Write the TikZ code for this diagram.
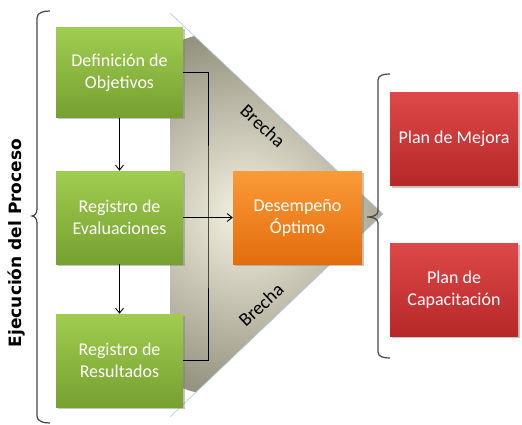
\documentclass[tikz,border=0pt]{standalone}
\usepackage{fontspec}
\setmainfont{Carlito}
\newfontfamily\labelfont{DejaVu Sans}
\usetikzlibrary{shadows,arrows.meta}
\definecolor{gtop}{RGB}{160,205,80}
\definecolor{gbot}{RGB}{118,160,48}
\definecolor{otop}{RGB}{250,155,55}
\definecolor{obot}{RGB}{228,108,12}
\definecolor{rtop}{RGB}{222,72,72}
\definecolor{rbot}{RGB}{182,40,40}
\definecolor{tridark}{RGB}{148,144,126}
\definecolor{trilight}{RGB}{244,242,226}
\definecolor{triedge}{RGB}{175,200,230}
\definecolor{bracec}{RGB}{70,70,70}
\tikzset{
  box/.style={rectangle, minimum width=127pt, minimum height=93pt, align=center,
    text=white, font=\fontsize{18}{22}\selectfont,
    drop shadow={opacity=0.45, shadow xshift=2pt, shadow yshift=-2pt}},
  greenbox/.style={box, top color=gtop, bottom color=gbot},
  orangebox/.style={box, top color=otop, bottom color=obot},
  redbox/.style={box, top color=rtop, bottom color=rbot},
  conn/.style={draw=black, line width=0.9pt},
  arr/.style={conn, -{Straight Barb[length=5pt,width=8pt]}},
  bracestyle/.style={draw=bracec, line width=1.2pt},
  gaplabel/.style={font=\fontsize{19}{22}\selectfont, text=black, inner sep=0pt}
}
\begin{document}
\begin{tikzpicture}[x=1pt,y=-1pt]
\useasboundingbox (0,0) rectangle (522,425);
\fill[white] (0,0) rectangle (522,425);
% gap triangle
\begin{scope}
  \clip (170,13) -- (383,214) -- (170,417) -- cycle;
  \shade[inner color=trilight, outer color=tridark] (245,214) circle (185);
\end{scope}
\draw[triedge, line width=0.6pt] (170,13) -- (383,214) -- (170,417);
% nodes
\node[greenbox, minimum height=90pt] (b1) at (119.5,72.5) {Definición de\\Objetivos};
\node[greenbox] (b2) at (119.5,217.5) {Registro de\\Evaluaciones};
\node[greenbox] (b3) at (119.5,360.5) {Registro de\\Resultados};
\node[orangebox, minimum width=129pt] (o) at (297.5,217.5) {Desempeño\\Óptimo};
\node[redbox, minimum width=128pt] (r1) at (454,139) {Plan de Mejora};
\node[redbox, minimum width=128pt] (r2) at (454,289.5) {Plan de\\Capacitación};
\coordinate (j) at (208,217.5);
% connectors
\draw[conn] (b1.east) -| (j) |- (b3.east);
\draw[arr] (b2.east) -- (o.west);
\draw[arr] (b1.south) -- (b2.north);
\draw[arr] (b2.south) -- (b3.north);
% labels
\node[gaplabel, rotate=-43] (g1) at (263,126) {Brecha};
\node[gaplabel, rotate=43] (g2) at (261,305) {Brecha};
\node[rotate=90, inner sep=0pt, font=\labelfont\bfseries\fontsize{17}{20}\selectfont] (ej) at (17,243) {Ejecución del Proceso};
% braces
\draw[bracestyle] (50,11) to[out=180,in=90] (37,18) -- (37,209) to[out=-90,in=0] (32,216) to[out=0,in=90] (37,223) -- (37,416) to[out=-90,in=180] (50,423);
\draw[bracestyle] (390,74) to[out=180,in=90] (378,80) -- (378,211) to[out=-90,in=0] (367,217) to[out=0,in=90] (378,223) -- (378,352) to[out=-90,in=180] (390,358);
\end{tikzpicture}
\end{document}
